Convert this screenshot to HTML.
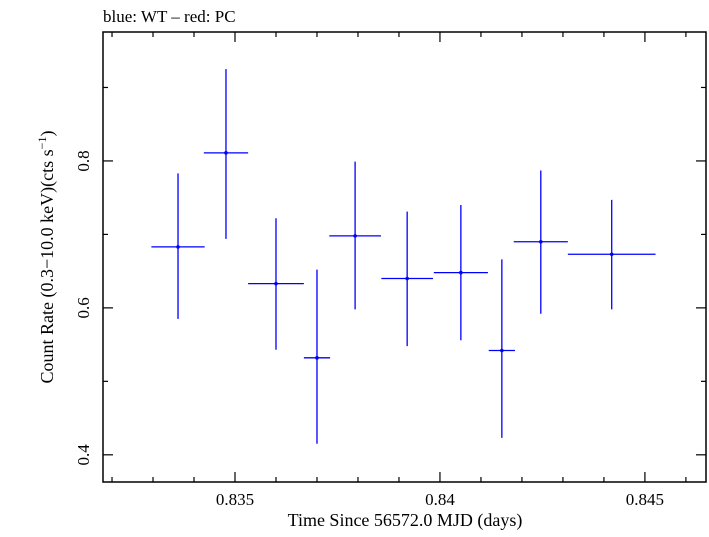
<!DOCTYPE html>
<html><head><meta charset="utf-8"><style>
body{margin:0;background:#fff}
svg text{font-family:"Liberation Serif",serif;fill:#000}
</style></head><body>
<svg id="chart" width="709" height="532" xmlns="http://www.w3.org/2000/svg">
<text x="103" y="22" font-size="17">blue: WT – red: PC</text>
<rect x="103" y="32" width="603" height="450" fill="none" stroke="#000" stroke-width="1.5"/>
<g id="ticks"></g>
<g id="marks"></g>
<text x="405" y="526" font-size="18" text-anchor="middle">Time Since 56572.0 MJD (days)</text>
<text transform="translate(53,257) rotate(-90)" font-size="18" text-anchor="middle">Count Rate (0.3−10.0 keV)(cts s<tspan font-size="12" dy="-7">−1</tspan><tspan dy="7">)</tspan></text>
</svg>
<script>
const times=[0.83361,0.83478,0.8360,0.8370,0.83793,0.8392,0.84051,0.84151,0.84246,0.84419];
const halfWidths=[0.00065,0.00054,0.00068,0.00032,0.00063,0.00063,0.00066,0.00032,0.00066,0.00107];
const rates=[0.683,0.811,0.633,0.532,0.698,0.640,0.648,0.542,0.690,0.673];
const errUp=[0.783,0.925,0.722,0.652,0.799,0.731,0.740,0.666,0.787,0.747];
const errDown=[0.585,0.694,0.543,0.415,0.598,0.548,0.556,0.423,0.592,0.598];
const xTickLabels=["0.835","0.84","0.845"];
const yTickLabels=["0.4","0.6","0.8"];
const X0=0.83178,X1=0.84649,Y0=0.363,Y1=0.9755;
const L=103,R=706,T=32,B=482;
const sx=v=>L+(v-X0)/(X1-X0)*(R-L);
const sy=v=>B-(v-Y0)/(Y1-Y0)*(B-T);
const NS="http://www.w3.org/2000/svg";
function mk(tag,at,parent){const e=document.createElementNS(NS,tag);for(const k in at)e.setAttribute(k,at[k]);parent.appendChild(e);return e;}
const tg=document.getElementById('ticks');
for(let i=832;i<=846;i++){const v=i/1000;const x=sx(v);const maj=i%5===0;const len=maj?10:5;
 const a=mk('line',{x1:x,x2:x,y1:B,y2:B-len,stroke:'#000','stroke-width':1.2},tg);
 
 
 const b=mk('line',{x1:x,x2:x,y1:T,y2:T+len,stroke:'#000','stroke-width':1.2},tg);
 
 }
xTickLabels.forEach(s=>{const t=mk('text',{x:sx(parseFloat(s)),y:505,'font-size':17,'text-anchor':'middle'},tg);t.textContent=s;
 
 });
for(let i=4;i<=9;i++){const v=i/10;const y=sy(v);const maj=i%2===0;const len=maj?10:5;
 const a=mk('line',{x1:L,x2:L+len,y1:y,y2:y,stroke:'#000','stroke-width':1.2},tg);
 
 
 const b=mk('line',{x1:R,x2:R-len,y1:y,y2:y,stroke:'#000','stroke-width':1.2},tg);
 
 }
yTickLabels.forEach(s=>{const y=sy(parseFloat(s));const t=mk('text',{transform:`translate(89,${y}) rotate(-90)`,'font-size':17,'text-anchor':'middle'},tg);t.textContent=s;
 
 });
const mg=document.getElementById('marks');
times.forEach((t,i)=>{const g=mk('g',{},mg);
 
 
 mk('line',{x1:sx(t-halfWidths[i]),x2:sx(t+halfWidths[i]),y1:sy(rates[i]),y2:sy(rates[i]),stroke:'#0000ff','stroke-width':1.3},g);
 mk('line',{x1:sx(t),x2:sx(t),y1:sy(errUp[i]),y2:sy(errDown[i]),stroke:'#0000ff','stroke-width':1.3},g);
 mk('circle',{cx:sx(t),cy:sy(rates[i]),r:1.8,fill:'#0000ff'},g);});
</script>
</body></html>
